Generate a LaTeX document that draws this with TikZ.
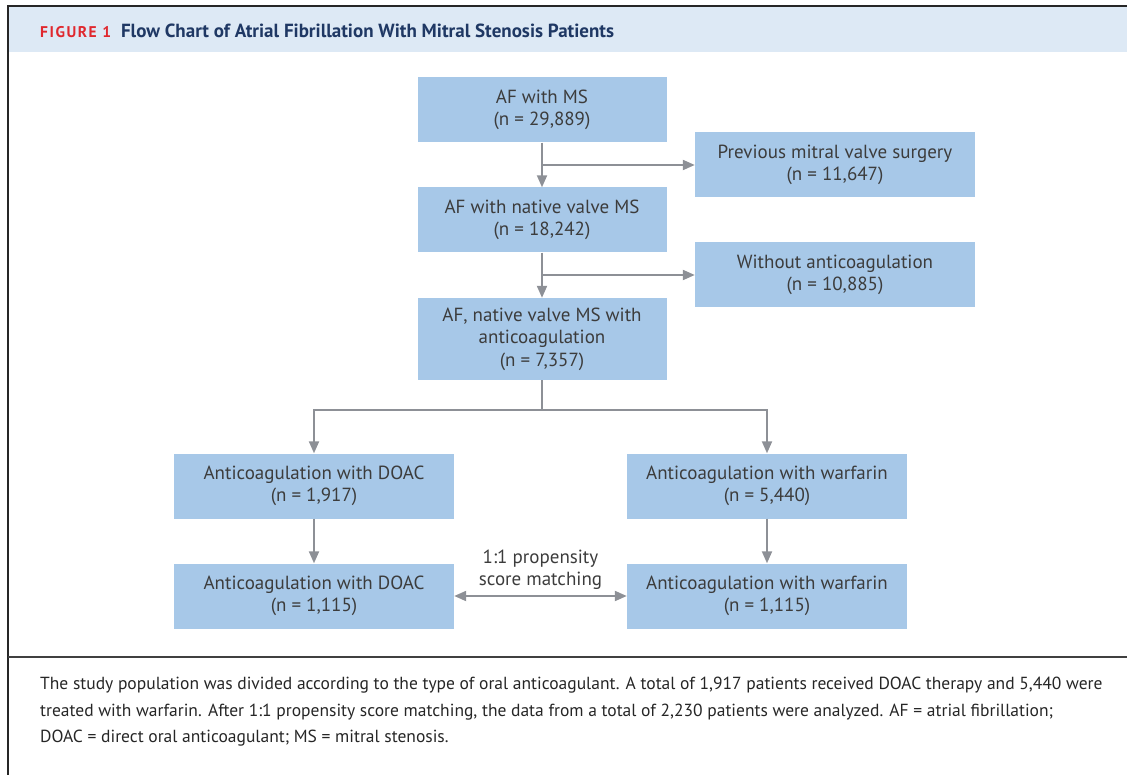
\documentclass[tikz,border=0pt]{standalone}
\usepackage{fontspec}
\setmainfont{PT Sans}
\usepackage{tikz}
\usepackage{xcolor}
\usetikzlibrary{arrows.meta,positioning}

\definecolor{boxblue}{HTML}{A7C8E8}
\definecolor{headblue}{HTML}{DDE9F5}
\definecolor{linegray}{HTML}{8D9096}
\definecolor{textgray}{HTML}{3C3C3C}
\definecolor{figred}{HTML}{E0282E}
\definecolor{navy}{HTML}{1F3864}

\begin{document}
\begin{tikzpicture}[
        x=1pt, y=-1pt, >={Triangle[length=12pt,width=10pt]},
        box/.style={rectangle, fill=boxblue, minimum width=249pt, minimum height=65pt,
          align=center, text=textgray, font=\fontsize{19}{22.5}\selectfont},
        sidebox/.style={box, minimum width=280pt},
        link/.style={draw=linegray, line width=2pt}
      ]
        \useasboundingbox (0,0) rectangle (1127,775);
        % frame and header band
        \fill[headblue] (9,7) rectangle (1127,52);
        \draw[line width=2pt, black!85] (8,775) -- (8,6) -- (1127,6);
        \draw[line width=1.5pt, black!75] (8,657) -- (1127,657);
        \node[anchor=west, inner sep=0pt, font=\fontsize{19}{20}\selectfont\bfseries] (title) at (40,31)
          {{\color{figred}\addfontfeatures{LetterSpace=10}\fontsize{15.5}{18}\selectfont FIGURE 1}\hspace{10pt}{\color{navy}Flow Chart of Atrial Fibrillation With Mitral Stenosis Patients}};

        % flow boxes
        \node[box] (af) at (542,110) {AF with MS\\(n = 29,889)};
        \node[sidebox] (surgery) at (835,165) {Previous mitral valve surgery\\(n = 11,647)};
        \node[box] (native) at (542,220) {AF with native valve MS\\(n = 18,242)};
        \node[sidebox] (noanti) at (835,275) {Without anticoagulation\\(n = 10,885)};
        \node[box, minimum height=82pt] (anti) at (542,339) {AF, native valve MS with\\anticoagulation\\(n = 7,357)};
        \node[sidebox] (doac) at (314,486) {Anticoagulation with DOAC\\(n = 1,917)};
        \node[sidebox] (warf) at (767,486) {Anticoagulation with warfarin\\(n = 5,440)};
        \node[sidebox] (doacm) at (314,596) {Anticoagulation with DOAC\\(n = 1,115)};
        \node[sidebox] (warfm) at (767,596) {Anticoagulation with warfarin\\(n = 1,115)};

        % connectors
        \draw[link, ->] (af) -- (native);
        \draw[link, ->] (af.south |- surgery.west) -- (surgery.west);
        \draw[link, ->] (native) -- (anti);
        \draw[link, ->] (native.south |- noanti.west) -- (noanti.west);
        \draw[link] (anti.south) -- ++(0,30) coordinate (split);
        \draw[link, ->] (split) -| (doac.north);
        \draw[link, ->] (split) -| (warf.north);
        \draw[link, ->] (doac) -- (doacm);
        \draw[link, ->] (warf) -- (warfm);
        \draw[link, <->] (doacm.east) -- node[above=2pt, align=center, text=textgray,
          font=\fontsize{19}{22.5}\selectfont] (match) {1:1 propensity\\score matching} (warfm.west);

        % caption
        \node[anchor=north west, align=left, inner sep=0pt, text=black!85,
          font=\fontsize{17.5}{26.5}\selectfont] (caption) at (40,677)
          {The study population was divided according to the type of oral anticoagulant. A total of 1,917 patients received DOAC therapy and 5,440 were\\
           treated with warfarin. After 1:1 propensity score matching, the data from a total of 2,230 patients were analyzed. AF = atrial fibrillation;\\
           DOAC = direct oral anticoagulant; MS = mitral stenosis.};
      \end{tikzpicture}
\end{document}
